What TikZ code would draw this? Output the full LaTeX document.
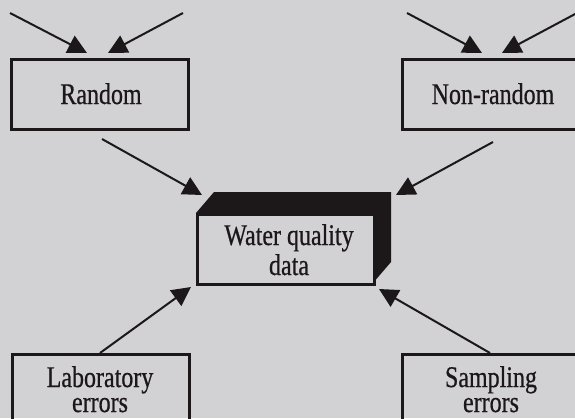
\documentclass[tikz,border=0pt]{standalone}
\usepackage{fontspec}
\setmainfont{Liberation Serif}[FakeStretch=0.8,FakeBold=0.6]
\usetikzlibrary{arrows.meta}
\definecolor{bg}{RGB}{210,209,211}
\definecolor{ink}{RGB}{28,24,26}
\begin{document}
\begin{tikzpicture}[x=1pt,y=-1pt,
  box/.style={draw=ink,line width=2.5pt,inner sep=0pt,anchor=north west},
  lbl/.style={text=ink,font=\fontsize{30}{30}\selectfont,anchor=base,inner sep=0pt,align=center},
  lbltight/.style={lbl,font=\fontsize{30}{25}\selectfont},
  arr/.style={draw=ink,line width=2pt,-{Triangle[length=19pt,width=19pt]}}]
\useasboundingbox (0,0) rectangle (575,418);
\fill[bg] (0,0) rectangle (575,418);
\clip (0,0) rectangle (575,418);
% boxes
\node[box,minimum width=177pt,minimum height=70pt] (random) at (10,58) {};
\node[box,minimum width=190pt,minimum height=70pt] (nonrandom) at (401,58) {};
\node[box,minimum width=177pt,minimum height=100pt] (lab) at (11,353) {};
\node[box,minimum width=190pt,minimum height=100pt] (samp) at (401,353) {};
% 3D central box
\fill[ink] (196,213)--(214,192)--(391,192)--(391,262)--(373,283)--(373,213)--cycle;
\node[box,fill=bg,minimum width=177pt,minimum height=70pt] (wq) at (196,213) {};
% texts (anchor base = baseline of last line)
\node[lbl] (trandom) at (101,104) {Random};
\node[lbl] (tnon) at (493,104) {Non-random};
\node[lbl] (twq) at (289,275) {Water quality\\data};
\node[lbltight] (tlab) at (100,412) {Laboratory\\errors};
\node[lbltight] (tsam) at (491,412) {Sampling\\errors};
% arrow end points
\coordinate (a1s) at (10,13);  \coordinate (a1e) at (87,53);
\coordinate (a2s) at (183,13); \coordinate (a2e) at (108,53);
\coordinate (a3s) at (407,13); \coordinate (a3e) at (482,53);
\coordinate (a4s) at (577,13); \coordinate (a4e) at (502,53);
\coordinate (a5s) at (102,139); \coordinate (a5e) at (202,195);
\coordinate (a6s) at (493,142); \coordinate (a6e) at (396,195);
\coordinate (a7s) at (100,353); \coordinate (a7e) at (191,287);
\coordinate (a8s) at (490,353); \coordinate (a8e) at (379,289);
\draw[arr] (a1s) -- (a1e);
\draw[arr] (a2s) -- (a2e);
\draw[arr] (a3s) -- (a3e);
\draw[arr] (a4s) -- (a4e);
\draw[arr] (a5s) -- (a5e);
\draw[arr] (a6s) -- (a6e);
\draw[arr] (a7s) -- (a7e);
\draw[arr] (a8s) -- (a8e);
\end{tikzpicture}
\end{document}
